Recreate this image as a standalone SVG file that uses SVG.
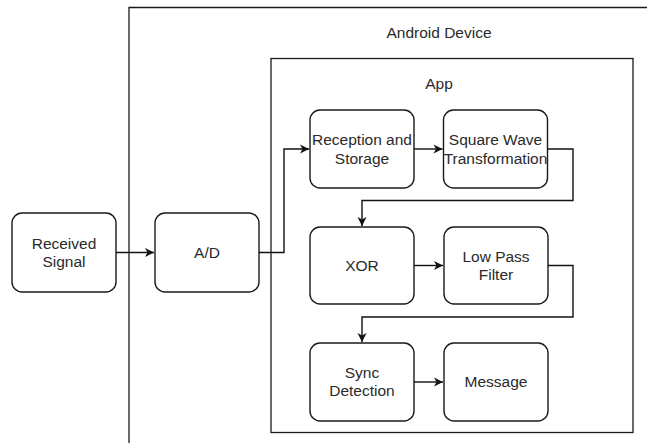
<svg xmlns="http://www.w3.org/2000/svg" width="647" height="443" viewBox="0 0 647 443">
  <style>
    .frame { fill: #ffffff; stroke: #1a1a1a; stroke-width: 1.3; }
    .box { fill: #ffffff; stroke: #1a1a1a; stroke-width: 1.4; }
    .lbl { font-family: "Liberation Sans", Arial, sans-serif; font-size: 15.5px; fill: #2a2a2a; text-anchor: middle; }
    .edge { fill: none; stroke: #111111; stroke-width: 1.4; }
  </style>
  <defs>
    <marker id="arrow" markerWidth="12" markerHeight="12" refX="10" refY="6" orient="auto" markerUnits="userSpaceOnUse">
      <path d="M1,1.5 L10,6 L1,10.5 L3.5,6 Z" fill="#111111"/>
    </marker>
  </defs>
  <rect width="647" height="443" fill="#ffffff"/>

  <!-- outer device container, open to the right and bottom -->
  <g id="android-device">
    <path class="frame" d="M129,450 L129,7.5 L660,7.5" fill="none"/>
    <text class="lbl" x="439" y="38">Android Device</text>
  </g>

  <g id="app">
    <rect class="frame" x="271" y="58.5" width="362" height="374"/>
    <text class="lbl" x="439" y="89">App</text>
  </g>

  <g id="received-signal">
    <rect class="box" x="12" y="213" width="104" height="79" rx="10"/>
    <text class="lbl" x="64" y="249">Received</text>
    <text class="lbl" x="64" y="267">Signal</text>
  </g>

  <g id="ad">
    <rect class="box" x="155" y="213" width="104" height="79" rx="10"/>
    <text class="lbl" x="207" y="258">A/D</text>
  </g>

  <g id="reception-storage">
    <rect class="box" x="310" y="110" width="104" height="78" rx="10"/>
    <text class="lbl" x="362" y="145">Reception and</text>
    <text class="lbl" x="362" y="164">Storage</text>
  </g>

  <g id="square-wave">
    <rect class="box" x="443.5" y="110" width="104" height="78" rx="10"/>
    <text class="lbl" x="495.5" y="145">Square Wave</text>
    <text class="lbl" x="495.5" y="164">Transformation</text>
  </g>

  <g id="xor">
    <rect class="box" x="310" y="227" width="104" height="77" rx="10"/>
    <text class="lbl" x="362" y="271">XOR</text>
  </g>

  <g id="low-pass-filter">
    <rect class="box" x="444" y="227" width="104" height="77" rx="10"/>
    <text class="lbl" x="496" y="262">Low Pass</text>
    <text class="lbl" x="496" y="280">Filter</text>
  </g>

  <g id="sync-detection">
    <rect class="box" x="310" y="343" width="104" height="78" rx="10"/>
    <text class="lbl" x="362" y="378">Sync</text>
    <text class="lbl" x="362" y="396">Detection</text>
  </g>

  <g id="message">
    <rect class="box" x="444" y="343" width="104" height="78" rx="10"/>
    <text class="lbl" x="496" y="387">Message</text>
  </g>

  <g id="connectors">
    <path class="edge" d="M116,252.5 L154,252.5" marker-end="url(#arrow)"/>
    <path class="edge" d="M259,252.5 L284,252.5 L284,149 L309,149" marker-end="url(#arrow)"/>
    <path class="edge" d="M414,149 L442.5,149" marker-end="url(#arrow)"/>
    <path class="edge" d="M547.5,149 L573,149 L573,200.5 L362,200.5 L362,226" marker-end="url(#arrow)"/>
    <path class="edge" d="M414,265.5 L443,265.5" marker-end="url(#arrow)"/>
    <path class="edge" d="M548,265.5 L573,265.5 L573,317 L362,317 L362,342" marker-end="url(#arrow)"/>
    <path class="edge" d="M414,382 L443,382" marker-end="url(#arrow)"/>
  </g>
</svg>
